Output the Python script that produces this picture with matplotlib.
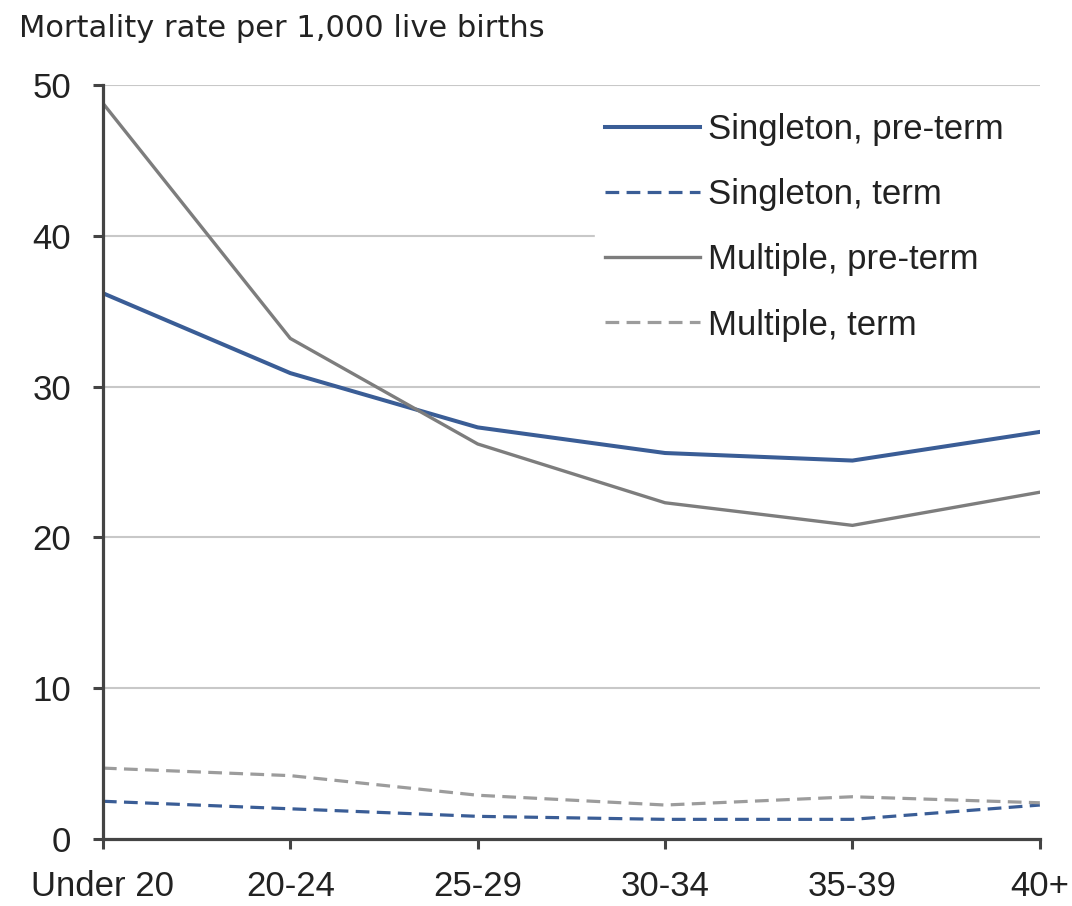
import numpy as np
import matplotlib
matplotlib.use("Agg")
from matplotlib import pyplot as plt

# data
age_groups = ["Under 20", "20-24", "25-29", "30-34", "35-39", "40+"]
singleton_preterm = [36.2, 30.9, 27.3, 25.6, 25.1, 27.0]
singleton_term = [2.5, 2.0, 1.5, 1.3, 1.3, 2.25]
multiple_preterm = [48.8, 33.2, 26.2, 22.3, 20.8, 23.0]
multiple_term = [4.7, 4.2, 2.9, 2.25, 2.8, 2.4]
yticks = [0, 10, 20, 30, 40, 50]

plt.rcParams['font.family'] = ['Liberation Sans', 'DejaVu Sans']

blue = "#3a5d96"
grey = "#7d7d7d"
lightgrey = "#9c9c9c"
axcol = "#444444"
txtcol = "#222222"

fig = plt.figure(figsize=(10.72, 9.06), dpi=100)
ax = fig.add_axes([0.096, 0.074, 0.874, 0.832])

x = np.arange(len(age_groups))
ax.plot(x, singleton_preterm, color=blue, lw=2.9, label="Singleton, pre-term")
ax.plot(x, singleton_term, color=blue, lw=2.3, dashes=(4.3, 2.3), label="Singleton, term")
ax.plot(x, multiple_preterm, color=grey, lw=2.4, label="Multiple, pre-term")
ax.plot(x, multiple_term, color=lightgrey, lw=2.3, dashes=(4.3, 2.3), label="Multiple, term")

ax.set_xlim(0, len(age_groups) - 1)
ax.set_ylim(0, 50)
ax.set_xticks(x)
ax.set_xticklabels(age_groups)
ax.set_yticks(yticks)

for y in yticks[1:]:
    ax.axhline(y, color="#c8c8c8", lw=1.5, zorder=0)

for side in ["top", "right"]:
    ax.spines[side].set_visible(False)
for side in ["left", "bottom"]:
    ax.spines[side].set_color(axcol)
    ax.spines[side].set_linewidth(2.3)

ax.tick_params(axis="both", colors=axcol, width=2.2, length=7, labelsize=25,
               labelcolor=txtcol)
ax.tick_params(axis="x", pad=15)
ax.tick_params(axis="y", pad=16)

leg = ax.legend(loc="upper left", bbox_to_anchor=(0.5247, 0.0, 0.48, 0.9773),
                mode="expand", borderaxespad=0, frameon=True,
                fontsize=25, handlelength=2.74, handletextpad=0.23,
                labelspacing=0.93, borderpad=0.3)
leg.get_frame().set_facecolor("white")
leg.get_frame().set_edgecolor("white")
leg.get_frame().set_alpha(1)
for t in leg.get_texts():
    t.set_color(txtcol)

fig.text(0.018, 0.968, "Mortality rate per 1,000 live births", fontsize=22,
         family="DejaVu Sans", color=txtcol, ha="left", va="center")

fig.savefig("out.png", dpi=100, facecolor="white")
